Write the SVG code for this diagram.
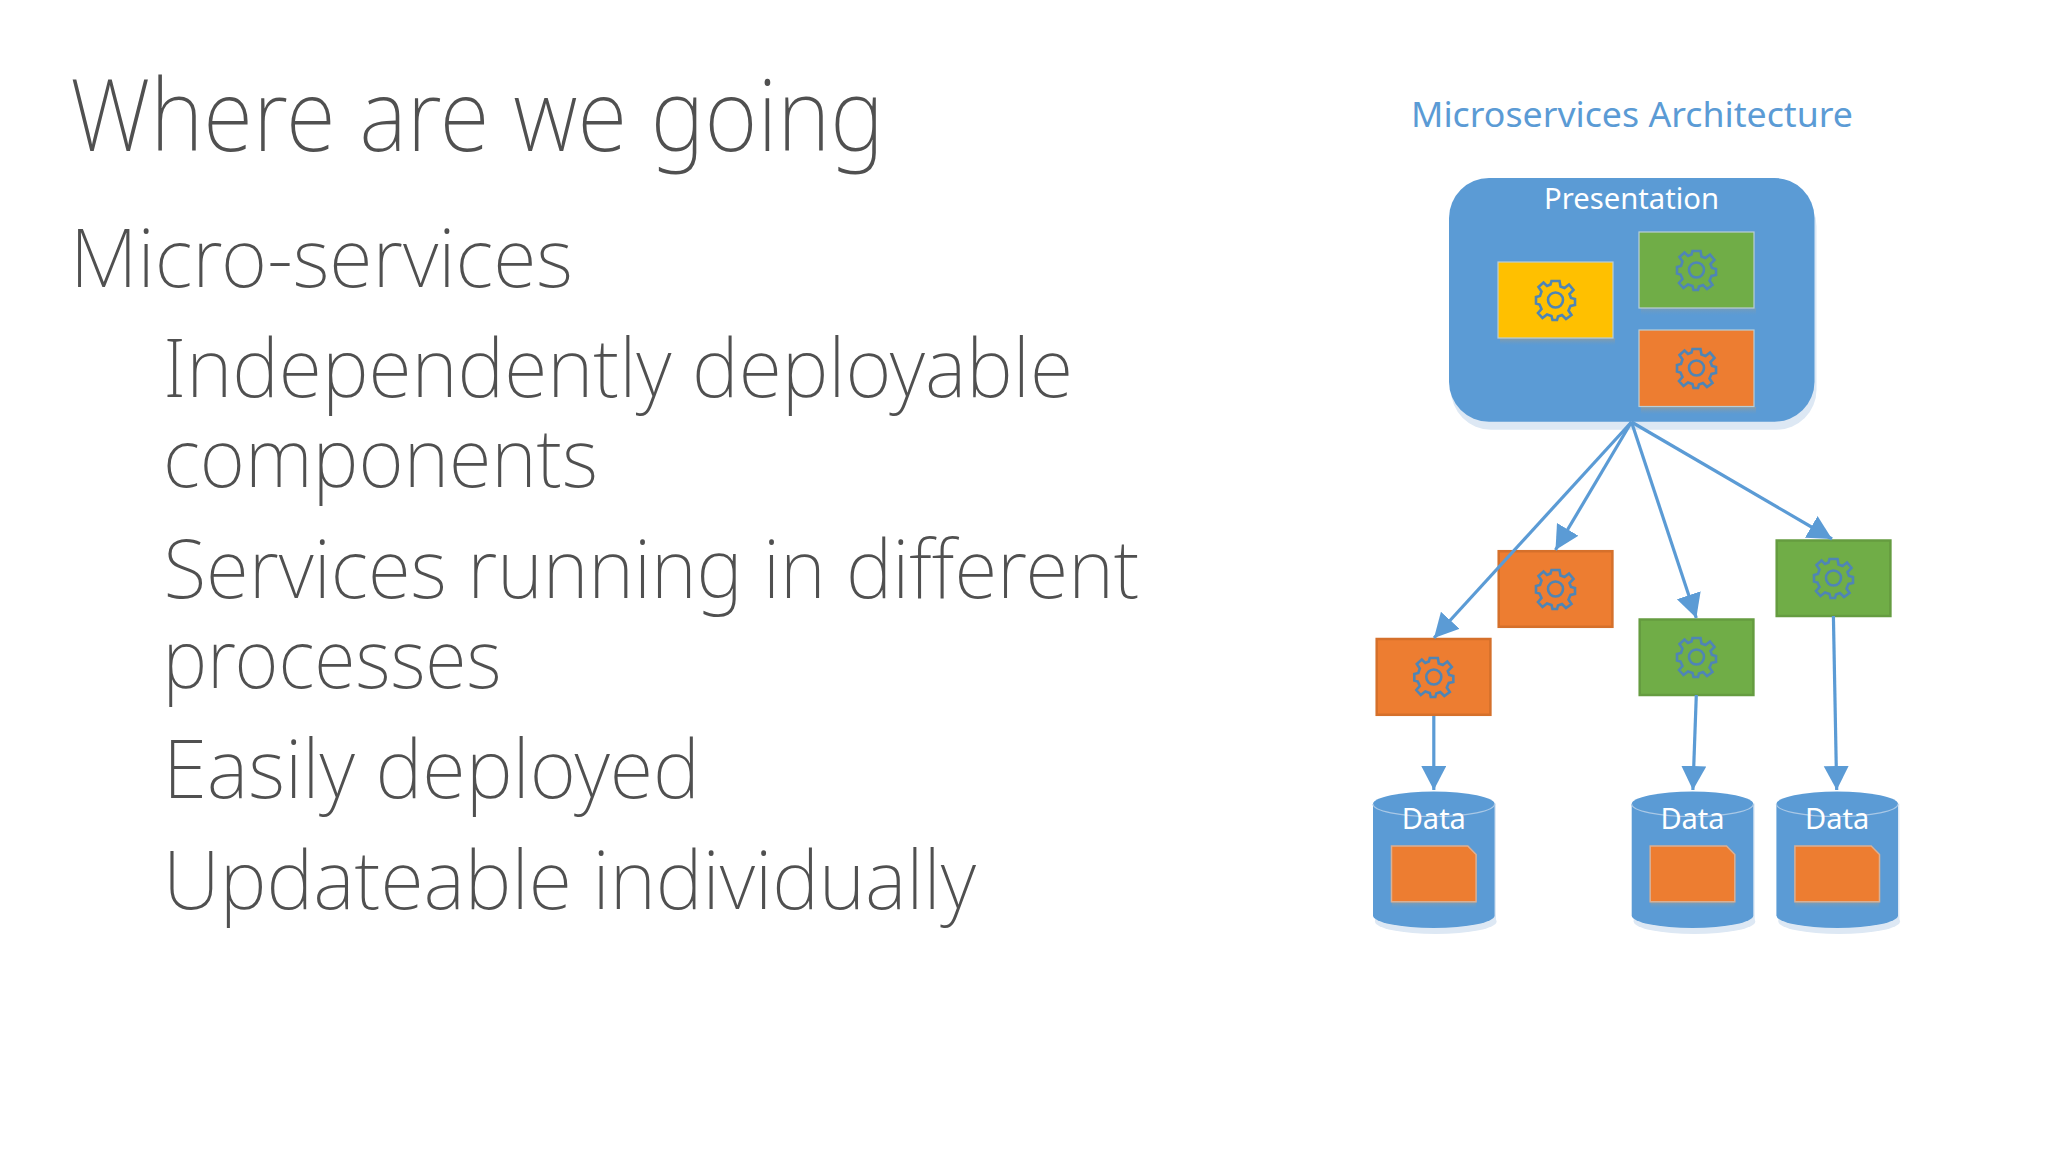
<svg xmlns="http://www.w3.org/2000/svg" xmlns:xlink="http://www.w3.org/1999/xlink" width="2048" height="1152" viewBox="0 0 2048 1152">
<style>
.h{font-family:"Noto Sans","Open Sans","Liberation Sans",sans-serif;font-weight:200;fill:#505050}
.l{font-family:"Noto Sans","Open Sans","Liberation Sans",sans-serif;fill:#fff;text-anchor:middle;font-size:29px}
.t{font-family:"Noto Sans","Open Sans","Liberation Sans",sans-serif;fill:#5b9bd5;font-size:35px}
.c{stroke:#5b9bd5;stroke-width:3.2;fill:none;marker-end:url(#a)}
.g{fill:none;stroke:#4f85b5;stroke-width:2.6}
.o{fill:#ed7d31;stroke:#d5702b;stroke-width:2.5}
.n{fill:#70ad47;stroke:#659c40;stroke-width:2.5}
.in{stroke:#b9cfd8;stroke-width:1.2}
.doc{fill:#ed7d31;stroke:#d9b095;stroke-width:1.5}
</style>
<defs>
<marker id="a" markerUnits="userSpaceOnUse" markerWidth="28" markerHeight="28" refX="24" refY="12.500" orient="auto"><path d="M0 0L24 12.500L0 25Z" fill="#5b9bd5"/></marker>
<linearGradient id="sh" x1="0" y1="0" x2="0" y2="1"><stop offset="0" stop-color="#8a9ca4"/><stop offset="1" stop-color="#5b9bd5" stop-opacity=".3"/></linearGradient>
<g id="gear"><path d="M-4-19L4-19L5-13.5L9-12L13.5-15.5L18-10L14-6L15.5-2L19.500-1L19.500 5L15 6L13 10.500L16 15L10.500 19L6.500 15L2.500 16.500L1.500 20L-3 20L-4 16L-8.500 14.500L-13 18L-17.500 13L-14 9L-16 4.500L-19.500 3.500L-19.500-3L-15.500-4L-14-8.500L-17-13L-12-17.500L-8.500-14L-5-15.500Z" class="g"/><circle r="7.500" class="g"/></g>
<g id="cyl"><ellipse cx="0" cy="124" rx="60.800" ry="12.500" fill="#dde8f4" transform="translate(2 6)"/><rect x="-58.800" y="12" width="121" height="118" fill="#dde8f4"/><path d="M-60.800 12.500A60.800 12.500 0 0 1 60.800 12.500V124A60.800 12.500 0 0 1-60.800 124Z" fill="#5b9bd5"/><path d="M-60.800 12.500A60.800 12.500 0 0 0 60.800 12.500" fill="none" stroke="#a9c8e6" stroke-width="1.200"/></g>
<g id="doc"><rect x="-42" y="110" width="84" height="7" fill="url(#sh)"/><path d="M-42.300 54.500H34L42.300 63V110.200H-42.300Z" class="doc"/></g>
</defs>
<rect width="2048" height="1152" fill="#fff"/>
<g id="slide-text">
<text class="h" x="70" y="151" font-size="100" textLength="814" lengthAdjust="spacingAndGlyphs">Where are we going</text>
<text class="h" x="70" y="287" font-size="82" textLength="503" lengthAdjust="spacingAndGlyphs">Micro-services</text>
<text class="h" x="163" y="397" font-size="82" textLength="910" lengthAdjust="spacingAndGlyphs">Independently deployable</text>
<text class="h" x="163" y="487" font-size="82" textLength="435" lengthAdjust="spacingAndGlyphs">components</text>
<text class="h" x="163.500" y="598" font-size="82" textLength="976" lengthAdjust="spacingAndGlyphs">Services running in different</text>
<text class="h" x="162.500" y="688" font-size="82" textLength="339" lengthAdjust="spacingAndGlyphs">processes</text>
<text class="h" x="163" y="798" font-size="82" textLength="537" lengthAdjust="spacingAndGlyphs">Easily deployed</text>
<text class="h" x="163" y="909" font-size="82" textLength="813" lengthAdjust="spacingAndGlyphs">Updateable individually</text>
<text class="t" x="1411" y="127" textLength="442" lengthAdjust="spacingAndGlyphs">Microservices Architecture</text>
</g>
<g id="presentation">
<rect x="1451" y="186" width="365.500" height="243.700" rx="40" fill="#dde8f4"/>
<rect x="1449" y="178" width="365.500" height="243.700" rx="40" fill="#5b9bd5"/>
<text class="l" x="1631.500" y="209" textLength="175" lengthAdjust="spacingAndGlyphs">Presentation</text>
<rect x="1500" y="338" width="115" height="7.500" fill="url(#sh)"/>
<rect x="1641" y="308" width="115" height="7.500" fill="url(#sh)" opacity=".6"/>
<rect x="1641" y="407" width="115" height="7.500" fill="url(#sh)"/>
</g>
<g id="svc-yellow"><rect class="in" x="1498" y="262" width="115" height="76" fill="#ffc000"/><use xlink:href="#gear" href="#gear" x="1555.500" y="300"/></g>
<g id="svc-green"><rect class="in" x="1639" y="232" width="115" height="76" fill="#70ad47"/><use xlink:href="#gear" href="#gear" x="1696.500" y="270"/></g>
<g id="svc-orange"><rect class="in" x="1639" y="330" width="115" height="76.500" fill="#ed7d31"/><use xlink:href="#gear" href="#gear" x="1696.500" y="368"/></g>
<g id="orange-1"><rect class="o" x="1498.700" y="551.200" width="113.700" height="75.600"/><use xlink:href="#gear" href="#gear" x="1555.500" y="589"/></g>
<g id="orange-2"><rect class="o" x="1376.700" y="639" width="113.700" height="75.800"/><use xlink:href="#gear" href="#gear" x="1433.800" y="677"/></g>
<g id="green-2"><rect class="n" x="1639.700" y="619.500" width="113.700" height="75.500"/><use xlink:href="#gear" href="#gear" x="1696.500" y="657"/></g>
<g id="green-1"><rect class="n" x="1776.700" y="540.500" width="113.700" height="75.500"/><use xlink:href="#gear" href="#gear" x="1833.500" y="578"/></g>
<g id="data-1"><use xlink:href="#cyl" href="#cyl" x="1433.800" y="791.500"/><text class="l" x="1433.800" y="829">Data</text><use xlink:href="#doc" href="#doc" x="1433.800" y="791.500"/></g>
<g id="data-2"><use xlink:href="#cyl" href="#cyl" x="1692.500" y="791.500"/><text class="l" x="1692.500" y="829">Data</text><use xlink:href="#doc" href="#doc" x="1692.500" y="791.500"/></g>
<g id="data-3"><use xlink:href="#cyl" href="#cyl" x="1837.200" y="791.500"/><text class="l" x="1837.200" y="829">Data</text><use xlink:href="#doc" href="#doc" x="1837.200" y="791.500"/></g>
<g id="connectors">
<line class="c" x1="1631.500" y1="422" x2="1434" y2="638"/>
<line class="c" x1="1631.500" y1="422" x2="1555.500" y2="550"/>
<line class="c" x1="1631.500" y1="422" x2="1696.300" y2="618"/>
<line class="c" x1="1631.500" y1="422" x2="1832" y2="539"/>
<line class="c" x1="1433.800" y1="716" x2="1433.800" y2="790"/>
<line class="c" x1="1696.300" y1="695" x2="1692.900" y2="790"/>
<line class="c" x1="1833.400" y1="616" x2="1836.700" y2="790"/>
</g>
</svg>
